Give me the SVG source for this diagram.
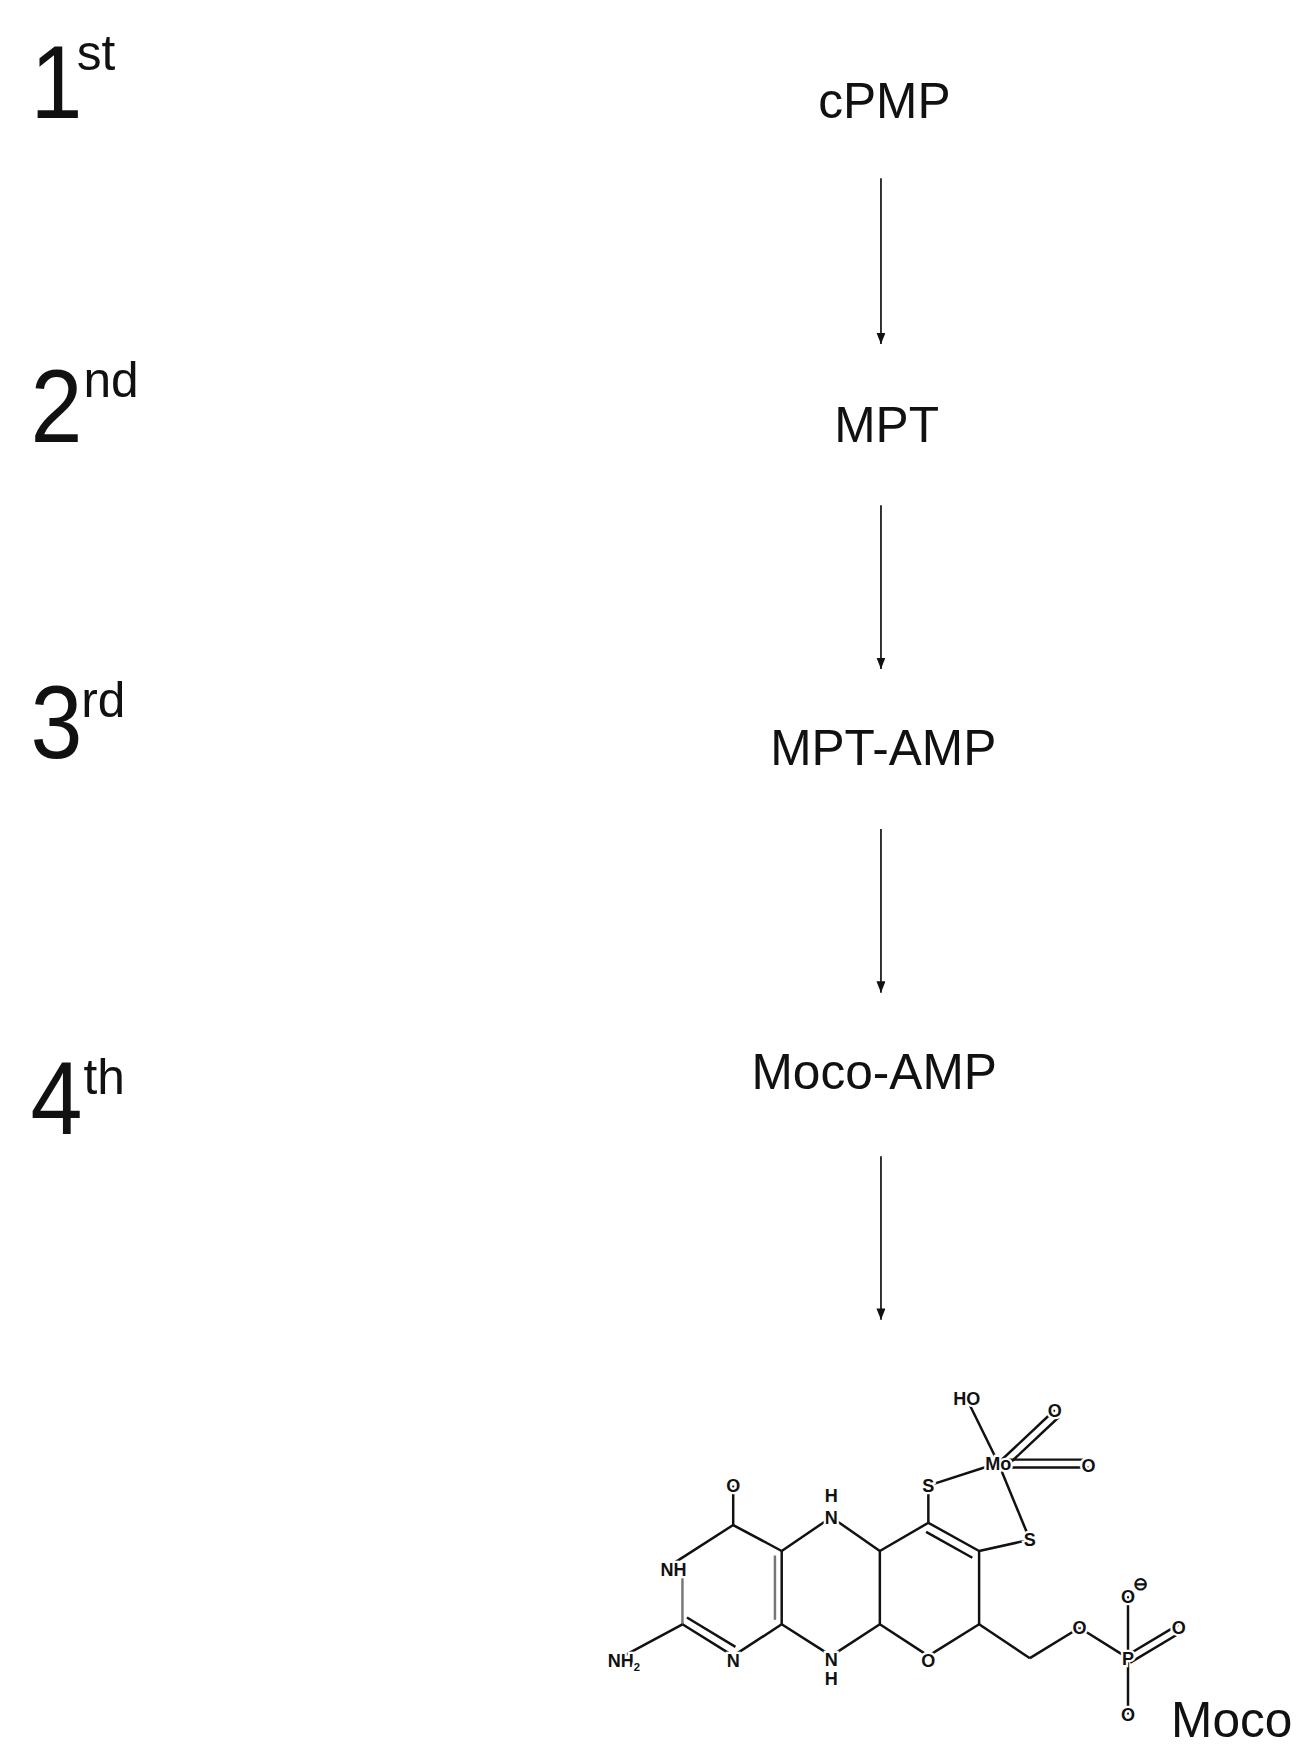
<svg xmlns="http://www.w3.org/2000/svg" width="1309" height="1763" viewBox="0 0 1309 1763">
<style>
.big{font-family:"Liberation Sans",Arial,sans-serif;font-size:92px;fill:#111}
.sup{font-family:"Liberation Sans",Arial,sans-serif;font-size:44px;fill:#111}
.lbl{font-family:"Liberation Sans",Arial,sans-serif;font-size:44px;fill:#111;text-anchor:middle}
.at{font-family:"Liberation Sans",Arial,sans-serif;font-size:16px;font-weight:bold;fill:#111;text-anchor:middle;stroke:#fff;stroke-width:4px;paint-order:stroke}
.bd{stroke:#111;stroke-width:2.2;fill:none}
.ar{stroke:#111;stroke-width:1.5;fill:none}
</style>
<defs><marker id="ah" markerWidth="10" markerHeight="8" refX="10" refY="4" orient="auto" markerUnits="userSpaceOnUse"><path d="M0,0 L10,4 L0,8 Z" fill="#111"/></marker></defs>
<g transform="scale(1.128)">
<g id="steps">
<text class="big" x="27" y="105" transform="translate(2.7,0) scale(0.9,1)">1</text><text class="sup" x="68" y="62">st</text>
<text class="big" x="27" y="392" transform="translate(2.7,0) scale(0.9,1)">2</text><text class="sup" x="74" y="352">nd</text>
<text class="big" x="27" y="672" transform="translate(2.7,0) scale(0.9,1)">3</text><text class="sup" x="72" y="636">rd</text>
<text class="big" x="27" y="1005" transform="translate(2.7,0) scale(0.9,1)">4</text><text class="sup" x="74" y="970">th</text>
</g>
<g id="cPMP"><text class="lbl" x="784" y="105">cPMP</text></g>
<g id="MPT"><text class="lbl" x="786" y="392">MPT</text></g>
<g id="MPT-AMP"><text class="lbl" x="783" y="678">MPT-AMP</text></g>
<g id="Moco-AMP"><text class="lbl" x="775" y="965">Moco-AMP</text></g>
<g id="connectors">
<line class="ar" x1="781" y1="158" x2="781" y2="305" marker-end="url(#ah)"/>
<line class="ar" x1="781" y1="448" x2="781" y2="593" marker-end="url(#ah)"/>
<line class="ar" x1="781" y1="735" x2="781" y2="880" marker-end="url(#ah)"/>
<line class="ar" x1="781" y1="1025" x2="781" y2="1170" marker-end="url(#ah)"/>
</g>
<g id="Moco">
<g class="bd">
<line x1="650" y1="1317" x2="650" y2="1352"/>
<line x1="650" y1="1352" x2="597" y2="1386"/>
<line x1="650" y1="1352" x2="693" y2="1375"/>
<line x1="605" y1="1391" x2="605" y2="1440" stroke="#777"/>
<line x1="605" y1="1440" x2="553" y2="1468"/>
<line x1="605" y1="1440" x2="650" y2="1468"/>
<line x1="609" y1="1434" x2="652" y2="1460"/>
<line x1="650" y1="1468" x2="693" y2="1440"/>
<line x1="693" y1="1375" x2="693" y2="1440"/>
<line x1="687" y1="1379" x2="687" y2="1436" stroke="#777"/>
<line x1="693" y1="1375" x2="737" y2="1345"/>
<line x1="737" y1="1345" x2="780" y2="1375"/>
<line x1="693" y1="1440" x2="737" y2="1468"/>
<line x1="737" y1="1468" x2="780" y2="1440"/>
<line x1="780" y1="1375" x2="780" y2="1440"/>
<line x1="780" y1="1440" x2="823" y2="1468"/>
<line x1="823" y1="1468" x2="868" y2="1440"/>
<line x1="868" y1="1440" x2="868" y2="1375"/>
<line x1="780" y1="1375" x2="823" y2="1350"/>
<line x1="823" y1="1350" x2="868" y2="1375"/>
<line x1="821" y1="1358" x2="862" y2="1381"/>
<line x1="823" y1="1350" x2="823" y2="1317"/>
<line x1="868" y1="1375" x2="913" y2="1365"/>
<line x1="823" y1="1317" x2="885" y2="1297"/>
<line x1="913" y1="1365" x2="885" y2="1297"/>
<line x1="885" y1="1297" x2="857" y2="1240"/>
<line x1="885" y1="1297" x2="935" y2="1250"/>
<line x1="889" y1="1303" x2="939" y2="1256"/>
<line x1="885" y1="1294" x2="965" y2="1294"/>
<line x1="885" y1="1301" x2="965" y2="1301"/>
<line x1="868" y1="1440" x2="913" y2="1470"/>
<line x1="913" y1="1470" x2="957" y2="1443"/>
<line x1="957" y1="1443" x2="1000" y2="1470"/>
<line x1="1000" y1="1470" x2="1000" y2="1415"/>
<line x1="1000" y1="1470" x2="1000" y2="1520"/>
<line x1="1000" y1="1467" x2="1045" y2="1440"/>
<line x1="1002" y1="1474" x2="1047" y2="1447"/>
</g>
<text class="at" x="650" y="1323">O</text>
<text class="at" x="597" y="1397">NH</text>
<text class="at" x="553" y="1478">NH<tspan font-size="10" dy="3">2</tspan></text>
<text class="at" x="650" y="1478">N</text>
<text class="at" x="737" y="1332">H</text>
<text class="at" x="737" y="1351">N</text>
<text class="at" x="737" y="1477">N</text>
<text class="at" x="737" y="1494">H</text>
<text class="at" x="823" y="1478">O</text>
<text class="at" x="823" y="1323">S</text>
<text class="at" x="913" y="1371">S</text>
<text class="at" x="885" y="1303">Mo</text>
<text class="at" x="857" y="1246">HO</text>
<text class="at" x="935" y="1256">O</text>
<text class="at" x="965" y="1305">O</text>
<text class="at" x="957" y="1449">O</text>
<text class="at" x="1000" y="1476">P</text>
<text class="at" x="1000" y="1421">O</text>
<text class="at" x="1011" y="1410" font-size="10">⊖</text>
<text class="at" x="1045" y="1449">O</text>
<text class="at" x="1000" y="1526">O</text>
<text class="lbl" x="1092" y="1540">Moco</text>
</g>
</g>
</svg>
